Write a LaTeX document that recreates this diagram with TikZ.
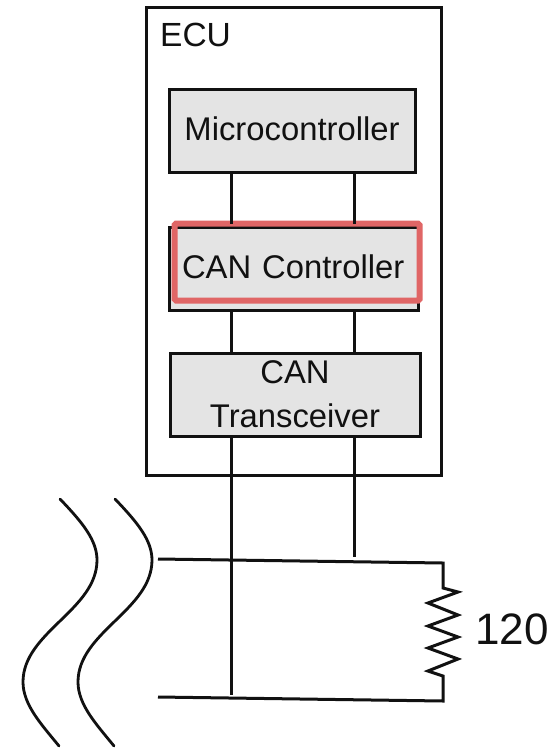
\documentclass[tikz,border=0pt]{standalone}
\usepackage{fontspec}
\setmainfont{Liberation Sans}
\definecolor{boxgray}{HTML}{E4E4E4}
\definecolor{hilite}{HTML}{E06666}
\definecolor{ink}{HTML}{111111}
\tikzset{
  px/.style={x=1pt,y=-1pt},
  unitbox/.style={draw=ink,line width=3pt,outer sep=0pt,fill=boxgray,inner sep=0pt,align=center,font=\fontsize{32.8}{44}\selectfont,text=ink},
  wire/.style={draw=ink,line width=3pt},
  curve/.style={draw=ink,line width=2.8pt,line cap=round},
}
\begin{document}
\begin{tikzpicture}[px]
\useasboundingbox (0,0) rectangle (553,748);
\node[draw=ink,line width=3pt,outer sep=0pt,minimum width=295pt,minimum height=468pt,inner sep=0pt,anchor=north west] (ecu) at (146.5,7) {};
\node[anchor=base west,inner sep=0pt,font=\fontsize{33.5}{40}\selectfont,text=ink] (ecul) at (160,46) {ECU};
\node[unitbox,minimum width=246pt,minimum height=83pt,text height=19pt,text depth=0pt,anchor=north west] (mc) at (169,89) {Microcontroller};
\node[unitbox,minimum width=249pt,minimum height=83pt,anchor=north west] (cc) at (169,227) {};
\node[unitbox,minimum width=250pt,minimum height=83pt,anchor=north west] (tr) at (170,353) {CAN\\Transceiver};
\node[draw=hilite,line width=6pt,outer sep=0pt,rounded corners=1.5pt,minimum width=245pt,minimum height=77pt,anchor=north west,inner sep=0pt,text height=32pt,text depth=0pt,text width=245pt,align=left,font=\fontsize{32.8}{42}\selectfont,text=ink] (red) at (174.5,223.5) {\hspace*{7.5pt}CAN Controller};
\coordinate (w1) at (231,0);
\coordinate (w2) at (354,0);
\coordinate (tl) at (158,559);
\coordinate (tj) at (443,563);
\coordinate (bl) at (158,697);
\coordinate (bj) at (443,701);
\coordinate (t2) at (354,557);
\coordinate (b1) at (231,695);
\draw[wire] (w1 |- mc.south) -- (w1 |- red.north);
\draw[wire] (w2 |- mc.south) -- (w2 |- red.north);
\draw[wire] (w1 |- cc.south) -- (w1 |- tr.north);
\draw[wire] (w2 |- cc.south) -- (w2 |- tr.north);
\draw[wire] (w1 |- tr.south) -- (b1);
\draw[wire] (w2 |- tr.south) -- (t2);
\draw[wire,line join=miter] (tl) -- (tj) -- (443,588) -- (458,592) -- (428,603) -- (458,615) -- (428,626) -- (458,637) -- (428,648) -- (458,659) -- (428,671) -- (443,676) -- (bj) -- (bl);
\draw[curve] (60,499) .. controls (82,522) and (97,540) .. (97,560) .. controls (97,610) and (23,632) .. (23,682) .. controls (23,705) and (42,725) .. (59,746);
\draw[curve] (115,499) .. controls (137,522) and (152,540) .. (152,560) .. controls (152,610) and (78,632) .. (78,682) .. controls (78,705) and (97,725) .. (114,746);
\node[anchor=base west,inner sep=0pt,font=\fontsize{44}{50}\selectfont,text=ink] (rv) at (475,644) {120};
\end{tikzpicture}
\end{document}
